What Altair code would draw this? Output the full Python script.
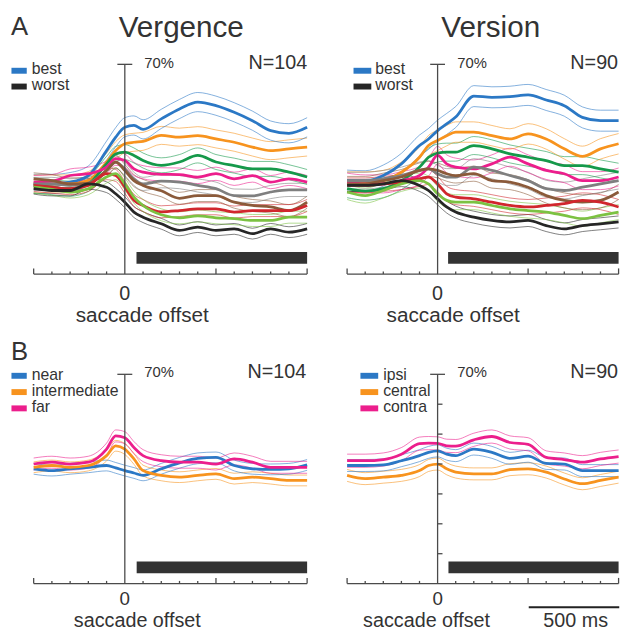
import altair as alt
import pandas as pd

# ---------------- data ----------------
TIMES = [-500, -400, -300, -200, -100, -50, 0, 50, 100, 200, 300, 400, 500, 600, 700, 800, 900, 1000]

GROUP_NAMES = ["best", "orange", "green", "pink", "gray", "brown", "red", "lightgreen", "worst"]
GROUP_COLORS = ["#2b78c5", "#f7931e", "#15994a", "#ec1e8c", "#7f7f7f", "#8b5a3a", "#d1262d", "#7cc242", "#262626"]

# Vergence (A, left)
VERG_BEST = [30.1, 30.1, 30.7, 32.9, 41.2, 45.7, 49.0, 49.6, 48.3, 51.8, 55.1, 57.4, 56.2, 54.0, 51.2, 47.9, 47.0, 49.0]
VERG_ORANGE = [30.1, 30.1, 30.1, 31.2, 37.4, 41.2, 43.5, 44.0, 44.3, 46.3, 45.7, 46.2, 45.1, 44.0, 42.4, 41.2, 41.8, 42.4]
VERG_GREEN = [29.6, 29.0, 28.5, 30.1, 36.8, 40.1, 40.7, 39.6, 37.9, 36.3, 37.4, 39.6, 37.4, 36.2, 35.1, 35.1, 34.0, 32.4]
VERG_PINK = [30.7, 31.0, 32.9, 33.5, 35.7, 38.5, 37.9, 35.1, 34.0, 33.3, 33.2, 32.4, 33.5, 31.8, 32.9, 30.7, 31.8, 30.7]
VERG_GRAY = [30.1, 30.1, 29.6, 30.4, 34.6, 37.4, 35.1, 31.8, 30.1, 31.0, 30.7, 29.6, 28.5, 26.2, 26.1, 27.4, 28.1, 28.1]
VERG_BROWN = [31.8, 31.2, 30.1, 30.3, 34.6, 37.4, 34.6, 31.2, 29.6, 27.8, 25.3, 26.2, 26.2, 24.0, 22.9, 22.4, 21.2, 24.0]
VERG_RED = [29.6, 29.0, 28.5, 29.6, 33.5, 32.9, 29.0, 24.6, 22.9, 20.8, 21.2, 21.8, 21.8, 20.7, 21.2, 21.2, 21.2, 22.9]
VERG_LGREEN = [29.0, 28.3, 27.4, 28.5, 32.4, 33.5, 30.1, 25.7, 22.9, 19.8, 18.8, 19.4, 18.8, 18.5, 17.9, 17.9, 19.0, 19.0]
VERG_WORST = [28.5, 27.9, 27.9, 30.1, 29.0, 26.8, 24.0, 20.7, 19.0, 16.8, 14.6, 15.7, 14.6, 15.1, 13.5, 15.1, 14.0, 15.1]
VERG_HALFWIDTH = [3.2, 3.0, 2.5, 2.2, 2.2, 2.0, 2.0, 2.0, 1.8]

# Version (A, right)
VERS_BEST = [31.2, 31.0, 32.9, 36.8, 42.9, 45.1, 47.9, 50.1, 52.4, 59.4, 59.0, 59.2, 59.8, 58.1, 56.2, 52.3, 51.2, 51.2]
VERS_ORANGE = [30.7, 30.7, 31.2, 34.0, 39.0, 42.9, 44.6, 46.2, 47.4, 47.4, 46.2, 45.1, 46.8, 45.1, 41.8, 39.3, 41.8, 43.5]
VERS_GREEN = [28.5, 27.7, 28.5, 31.2, 35.7, 39.0, 40.4, 40.7, 40.7, 42.9, 41.8, 40.1, 39.0, 37.9, 36.2, 36.2, 35.1, 34.0]
VERS_PINK = [30.7, 30.1, 30.1, 31.2, 32.9, 35.7, 39.6, 36.8, 35.7, 35.1, 36.8, 39.0, 36.8, 34.6, 33.5, 31.2, 31.2, 32.4]
VERS_GRAY = [31.2, 31.2, 31.8, 32.9, 34.6, 35.1, 33.5, 32.4, 32.4, 35.7, 34.6, 32.9, 31.2, 28.5, 27.9, 29.0, 30.1, 31.2]
VERS_BROWN = [30.1, 30.1, 31.2, 32.4, 34.6, 35.1, 34.6, 33.5, 32.9, 33.5, 31.2, 30.7, 29.0, 26.2, 24.6, 24.0, 24.6, 27.4]
VERS_RED = [29.6, 29.6, 30.1, 30.7, 31.8, 32.4, 30.1, 26.8, 25.7, 25.1, 24.0, 22.9, 22.4, 22.9, 23.5, 24.6, 24.0, 22.4]
VERS_LGREEN = [27.4, 26.2, 27.9, 30.1, 31.2, 30.1, 26.8, 24.6, 24.0, 24.0, 22.9, 21.8, 21.2, 20.7, 19.6, 18.5, 19.6, 20.7]
VERS_WORST = [29.6, 29.6, 30.1, 31.2, 29.6, 27.9, 25.1, 22.4, 20.7, 19.0, 17.9, 17.4, 17.9, 16.2, 15.1, 16.2, 16.8, 17.4]
VERS_HALFWIDTH = [3.5, 3.4, 3.0, 3.0, 2.8, 2.5, 2.5, 2.5, 2.0]

# B, left (depth)
DEPTH_NAMES = ["near", "intermediate", "far"]
DEPTH_NEAR = [38.4, 37.8, 38.4, 38.9, 39.5, 38.7, 37.8, 37.0, 36.2, 38.4, 40.4, 41.9, 42.2, 39.5, 38.4, 38.2, 38.4, 39.7]
DEPTH_INTER = [38.9, 39.5, 38.9, 39.5, 42.8, 46.1, 45.0, 41.7, 37.8, 36.2, 35.6, 36.2, 36.7, 35.1, 35.6, 35.1, 34.5, 34.5]
DEPTH_FAR = [40.0, 40.6, 40.0, 40.6, 45.0, 49.4, 48.8, 45.5, 42.8, 41.1, 40.6, 40.6, 40.0, 41.7, 40.6, 38.9, 38.9, 38.9]
DEPTH_HALFWIDTH = [1.8, 1.8, 2.0]

# B, right (direction)
DIR_NAMES = ["ipsi", "central", "contra"]
DIR_IPSI = [39.5, 39.5, 39.7, 41.1, 42.8, 43.9, 44.4, 43.3, 42.8, 45.0, 43.9, 41.9, 42.6, 40.2, 40.0, 37.8, 37.8, 37.8]
DIR_CENTRAL = [36.2, 35.1, 35.6, 36.2, 37.8, 39.5, 40.0, 38.4, 37.3, 36.7, 36.7, 38.1, 38.4, 37.3, 35.0, 33.4, 34.5, 35.6]
DIR_CONTRA = [41.1, 41.1, 41.5, 43.3, 46.8, 47.0, 46.9, 46.1, 46.0, 48.1, 49.2, 47.2, 46.6, 42.2, 41.5, 40.6, 41.7, 42.5]
DIR_HALFWIDTH = [2.0, 2.0, 2.2]
COND_COLORS = ["#2b78c5", "#f7931e", "#ec1e8c"]

# significance bars (start ms, end ms) and tick values
SIG_START = [64, 58, 65, 60]
SIG_END = 1000
MINOR_TICKS = [-400, -300, -200, -100, 100, 200, 300, 400, 600, 700, 800, 900]
MAJOR_TICKS = [-500, 500, 1000]
Y_TICKS = [10, 20, 30, 40, 50, 60]

# ---------------- layout (pixel geometry of the page) ----------------
FONT = "Liberation Sans"
TXT = "#333333"
AXC = "#4a4a4a"
COLS = [dict(x0=8, w=310, a=31.0, b=308.0), dict(x0=318, w=307, a=348.5, b=623.5)]
ROWS = [dict(y0=8, h=314, top=58.0, bot=270.5), dict(y0=322, h=309, top=371.0, bot=583.0)]


def t_of(c, px):
    k = (c["b"] - c["a"]) / 1500.0
    return -500 + (px - c["a"]) / k


def v_of(r, py):
    ky = (r["bot"] - r["top"]) / 70.0
    return (r["bot"] - py) / ky


def panel(ci, ri, names, colors, series, halfw, texts, swatches, sig_start, extra_rules=None, ytick=False):
    c, r = COLS[ci], ROWS[ri]
    xs = alt.Scale(domain=[t_of(c, c["x0"]), t_of(c, c["x0"] + c["w"])], nice=False, zero=False)
    ys = alt.Scale(domain=[v_of(r, r["y0"] + r["h"]), v_of(r, r["y0"])], nice=False, zero=False)
    X = lambda f: alt.X(f, scale=xs, axis=None)
    Y = lambda f: alt.Y(f, scale=ys, axis=None)

    rows = []
    for name, clr, vals, hw in zip(names, colors, series, halfw):
        for t, v in zip(TIMES, vals):
            rows.append(dict(series=name, clr=clr, t=t, v=v, hi=v + hw, lo=v - hw))
    df = pd.DataFrame(rows)
    col = alt.Color("clr:N", scale=None)
    base = alt.Chart(df)
    layers = []
    for f in ["hi", "lo"]:
        layers.append(base.mark_line(strokeWidth=0.9, opacity=0.65, interpolate="monotone").encode(
            x=X("t:Q"), y=Y(f + ":Q"), color=col, detail="series:N"))
    layers.append(base.mark_line(strokeWidth=2.8, interpolate="monotone").encode(
        x=X("t:Q"), y=Y("v:Q"), color=col, detail="series:N"))

    # axes drawn as rules
    rr = [(-500, 1000, 0, 0), (0, 0, 0, 70), (-41, 41, 70, 70)]
    rr += [(t, t, 0, 0.9) for t in MINOR_TICKS]
    rr += [(t, t, 0, 1.9) for t in MAJOR_TICKS]
    if ytick:
        rr += [(0, 27, v, v) for v in Y_TICKS]
    rdf = pd.DataFrame(rr, columns=["t", "t2", "v", "v2"])
    layers.append(alt.Chart(rdf).mark_rule(color=AXC, strokeWidth=1.3).encode(
        x=X("t:Q"), x2="t2:Q", y=Y("v:Q"), y2="v2:Q"))

    # significance bar
    sdf = pd.DataFrame([dict(t=sig_start, t2=SIG_END, v=v_of(r, r["bot"] - 10.5), v2=v_of(r, r["bot"] - 22.5))])
    layers.append(alt.Chart(sdf).mark_rect(color="#333333").encode(
        x=X("t:Q"), x2="t2:Q", y=Y("v:Q"), y2="v2:Q"))

    if extra_rules:
        edf = pd.DataFrame(extra_rules, columns=["px1", "px2", "py"])
        edf["t"] = [t_of(c, p) for p in edf["px1"]]
        edf["t2"] = edf["t"] + 500
        edf["v"] = [v_of(r, p) for p in edf["py"]]
        layers.append(alt.Chart(edf).mark_rule(color="#222222", strokeWidth=2).encode(
            x=X("t:Q"), x2="t2:Q", y=Y("v:Q")))

    # legend swatches
    sw = pd.DataFrame([dict(t=t_of(c, x1), t2=t_of(c, x2), v=v_of(r, y), clr=clr) for x1, x2, y, clr in swatches])
    layers.append(alt.Chart(sw).mark_rule(strokeWidth=6).encode(
        x=X("t:Q"), x2="t2:Q", y=Y("v:Q"), color=alt.Color("clr:N", scale=None)))

    # text
    for (px, py, label, size, align) in texts:
        tdf = pd.DataFrame([dict(t=t_of(c, px), v=v_of(r, py), label=label)])
        layers.append(alt.Chart(tdf).mark_text(align=align, baseline="alphabetic", fontSize=size,
                                               font=FONT, color=TXT).encode(
            x=X("t:Q"), y=Y("v:Q"), text="label:N"))
    return alt.layer(*layers).properties(width=c["w"], height=r["h"])


def zero_px(c):
    return c["a"] + 500 * (c["b"] - c["a"]) / 1500.0


L, R = COLS
pA1 = panel(0, 0, GROUP_NAMES, GROUP_COLORS,
            [VERG_BEST, VERG_ORANGE, VERG_GREEN, VERG_PINK, VERG_GRAY, VERG_BROWN, VERG_RED, VERG_LGREEN, VERG_WORST],
            VERG_HALFWIDTH,
            [(8, 28, "A", 26, "left"), (180.5, 30, "Vergence", 30, "center"),
             (143, 62, "70%", 15, "left"), (308, 63, "N=104", 20, "right"),
             (29, 68, "best", 16, "left"), (29, 84, "worst", 16, "left"),
             (zero_px(L), 297, "0", 20, "center"), (141, 319, "saccade offset", 21, "center")],
            [(8.5, 24, 64.5, GROUP_COLORS[0]), (8.5, 24, 80.5, GROUP_COLORS[-1])],
            SIG_START[0])
pA2 = panel(1, 0, GROUP_NAMES, GROUP_COLORS,
            [VERS_BEST, VERS_ORANGE, VERS_GREEN, VERS_PINK, VERS_GRAY, VERS_BROWN, VERS_RED, VERS_LGREEN, VERS_WORST],
            VERS_HALFWIDTH,
            [(494, 30, "Version", 30, "center"),
             (460, 62, "70%", 15, "left"), (623, 63, "N=90", 20, "right"),
             (377, 68, "best", 16, "left"), (377, 84, "worst", 16, "left"),
             (zero_px(R), 297, "0", 20, "center"), (456, 319, "saccade offset", 21, "center")],
            [(355, 373, 64.5, GROUP_COLORS[0]), (355, 373, 80.5, GROUP_COLORS[-1])],
            SIG_START[1])
pB1 = panel(0, 1, DEPTH_NAMES, COND_COLORS, [DEPTH_NEAR, DEPTH_INTER, DEPTH_FAR], DEPTH_HALFWIDTH,
            [(8, 357, "B", 26, "left"),
             (143, 374, "70%", 15, "left"), (307, 375, "N=104", 20, "right"),
             (29, 377, "near", 16, "left"), (29, 393, "intermediate", 16, "left"), (29, 409, "far", 16, "left"),
             (zero_px(L), 605, "0", 19, "center"), (136, 627, "saccade offset", 20, "center")],
            [(8.5, 24, 372.5, COND_COLORS[0]), (8.5, 24, 389.0, COND_COLORS[1]), (8.5, 24, 405.5, COND_COLORS[2])],
            SIG_START[2])
pB2 = panel(1, 1, DIR_NAMES, COND_COLORS, [DIR_IPSI, DIR_CENTRAL, DIR_CONTRA], DIR_HALFWIDTH,
            [(460, 374, "70%", 15, "left"), (623, 375, "N=90", 20, "right"),
             (385, 377, "ipsi", 16, "left"), (385, 393, "central", 16, "left"), (385, 409, "contra", 16, "left"),
             (zero_px(R), 605, "0", 19, "center"), (429, 627, "saccade offset", 20, "center"),
             (580, 627, "500 ms", 20, "center")],
            [(362, 380, 372.5, COND_COLORS[0]), (362, 380, 389.0, COND_COLORS[1]), (362, 380, 405.5, COND_COLORS[2])],
            SIG_START[3], extra_rules=[(532.5, 624, 607)], ytick=True)

top = alt.hconcat(pA1, pA2, spacing=0)
bottom = alt.hconcat(pB1, pB2, spacing=0)
chart = alt.vconcat(top, bottom, spacing=0).properties(padding=0).configure_view(stroke=None).configure_concat(spacing=0)
chart.save("out.html", embed_options={"renderer": "svg", "actions": False})
